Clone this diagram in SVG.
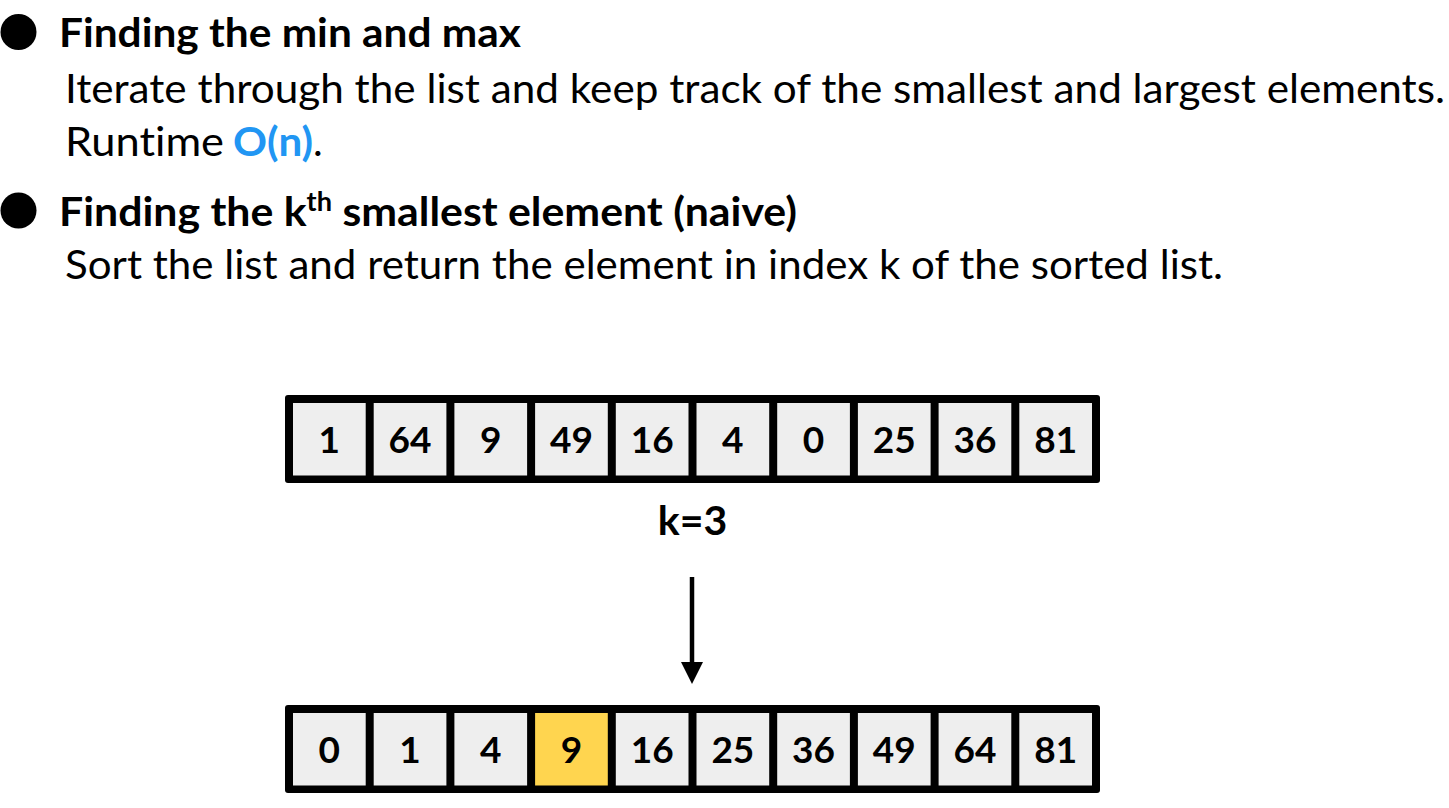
<svg xmlns="http://www.w3.org/2000/svg" width="1449" height="808" viewBox="0 0 1449 808">
<style>
text{font-variant-ligatures:none}
.t{font-family:Lato,"Open Sans","Liberation Sans",sans-serif;fill:#000}
.h{font-size:41px;font-weight:bold}
.b{font-size:41px}
.frame{fill:#000}
.cell{fill:#eeeeee}
.hl{fill:#ffd54f}
.num{font-family:Lato,"Open Sans","Liberation Sans",sans-serif;font-size:37px;font-weight:bold;text-anchor:middle;fill:#000}
.blue{fill:#2196f3;font-weight:bold}
</style>
<defs>
<marker id="ah" markerUnits="userSpaceOnUse" markerWidth="24" markerHeight="22" refX="0" refY="11" orient="auto">
<path d="M0,0 L22,11 L0,22 Z" fill="#000"/>
</marker>
</defs>
<rect width="1449" height="808" fill="#fff"/>

<g id="section1">
<circle cx="18.5" cy="32" r="18" fill="#000"/>
<text class="t h" x="59" y="47" textLength="462" lengthAdjust="spacingAndGlyphs">Finding the min and max</text>
<text class="t b" x="65" y="103" textLength="1380" lengthAdjust="spacingAndGlyphs">Iterate through the list and keep track of the smallest and largest elements.</text>
<text class="t b" x="65" y="156"><tspan textLength="159" lengthAdjust="spacingAndGlyphs">Runtime</tspan> <tspan x="233" class="blue" textLength="80" lengthAdjust="spacingAndGlyphs">O(n)</tspan><tspan x="313">.</tspan></text>
</g>

<g id="section2">
<circle cx="18.5" cy="210.5" r="18" fill="#000"/>
<text class="t h" x="59" y="226" textLength="738" lengthAdjust="spacingAndGlyphs">Finding the k<tspan font-size="26" dy="-15">th</tspan><tspan dy="15"> smallest element (naive)</tspan></text>
<text class="t b" x="65" y="279" textLength="1158" lengthAdjust="spacingAndGlyphs">Sort the list and return the element in index k of the sorted list.</text>
</g>

<g id="array-unsorted">
<rect class="frame" x="285" y="395" width="815" height="88" rx="3"/>
<g id="u0"><rect class="cell" x="293" y="403" width="72.7" height="72.5"/><text class="num" x="329.35" y="453">1</text></g>
<g id="u1"><rect class="cell" x="373.7" y="403" width="72.7" height="72.5"/><text class="num" x="410.05" y="453">64</text></g>
<g id="u2"><rect class="cell" x="454.4" y="403" width="72.7" height="72.5"/><text class="num" x="490.75" y="453">9</text></g>
<g id="u3"><rect class="cell" x="535.1" y="403" width="72.7" height="72.5"/><text class="num" x="571.45" y="453">49</text></g>
<g id="u4"><rect class="cell" x="615.8" y="403" width="72.7" height="72.5"/><text class="num" x="652.15" y="453">16</text></g>
<g id="u5"><rect class="cell" x="696.5" y="403" width="72.7" height="72.5"/><text class="num" x="732.85" y="453">4</text></g>
<g id="u6"><rect class="cell" x="777.2" y="403" width="72.7" height="72.5"/><text class="num" x="813.55" y="453">0</text></g>
<g id="u7"><rect class="cell" x="857.9" y="403" width="72.7" height="72.5"/><text class="num" x="894.25" y="453">25</text></g>
<g id="u8"><rect class="cell" x="938.6" y="403" width="72.7" height="72.5"/><text class="num" x="974.95" y="453">36</text></g>
<g id="u9"><rect class="cell" x="1019.3" y="403" width="72.7" height="72.5"/><text class="num" x="1055.65" y="453">81</text></g>
</g>

<g id="klabel">
<text class="t h" x="692.5" y="535" text-anchor="middle">k=3</text>
</g>

<g id="connectors">
<line x1="692" y1="577" x2="692" y2="662" stroke="#000" stroke-width="4.5" marker-end="url(#ah)"/>
</g>

<g id="array-sorted">
<rect class="frame" x="285" y="705" width="815" height="88" rx="3"/>
<g id="s0"><rect class="cell" x="293" y="713" width="72.7" height="72.5"/><text class="num" x="329.35" y="763">0</text></g>
<g id="s1"><rect class="cell" x="373.7" y="713" width="72.7" height="72.5"/><text class="num" x="410.05" y="763">1</text></g>
<g id="s2"><rect class="cell" x="454.4" y="713" width="72.7" height="72.5"/><text class="num" x="490.75" y="763">4</text></g>
<g id="s3"><rect class="hl" x="535.1" y="713" width="72.7" height="72.5"/><text class="num" x="571.45" y="763">9</text></g>
<g id="s4"><rect class="cell" x="615.8" y="713" width="72.7" height="72.5"/><text class="num" x="652.15" y="763">16</text></g>
<g id="s5"><rect class="cell" x="696.5" y="713" width="72.7" height="72.5"/><text class="num" x="732.85" y="763">25</text></g>
<g id="s6"><rect class="cell" x="777.2" y="713" width="72.7" height="72.5"/><text class="num" x="813.55" y="763">36</text></g>
<g id="s7"><rect class="cell" x="857.9" y="713" width="72.7" height="72.5"/><text class="num" x="894.25" y="763">49</text></g>
<g id="s8"><rect class="cell" x="938.6" y="713" width="72.7" height="72.5"/><text class="num" x="974.95" y="763">64</text></g>
<g id="s9"><rect class="cell" x="1019.3" y="713" width="72.7" height="72.5"/><text class="num" x="1055.65" y="763">81</text></g>
</g>
</svg>
